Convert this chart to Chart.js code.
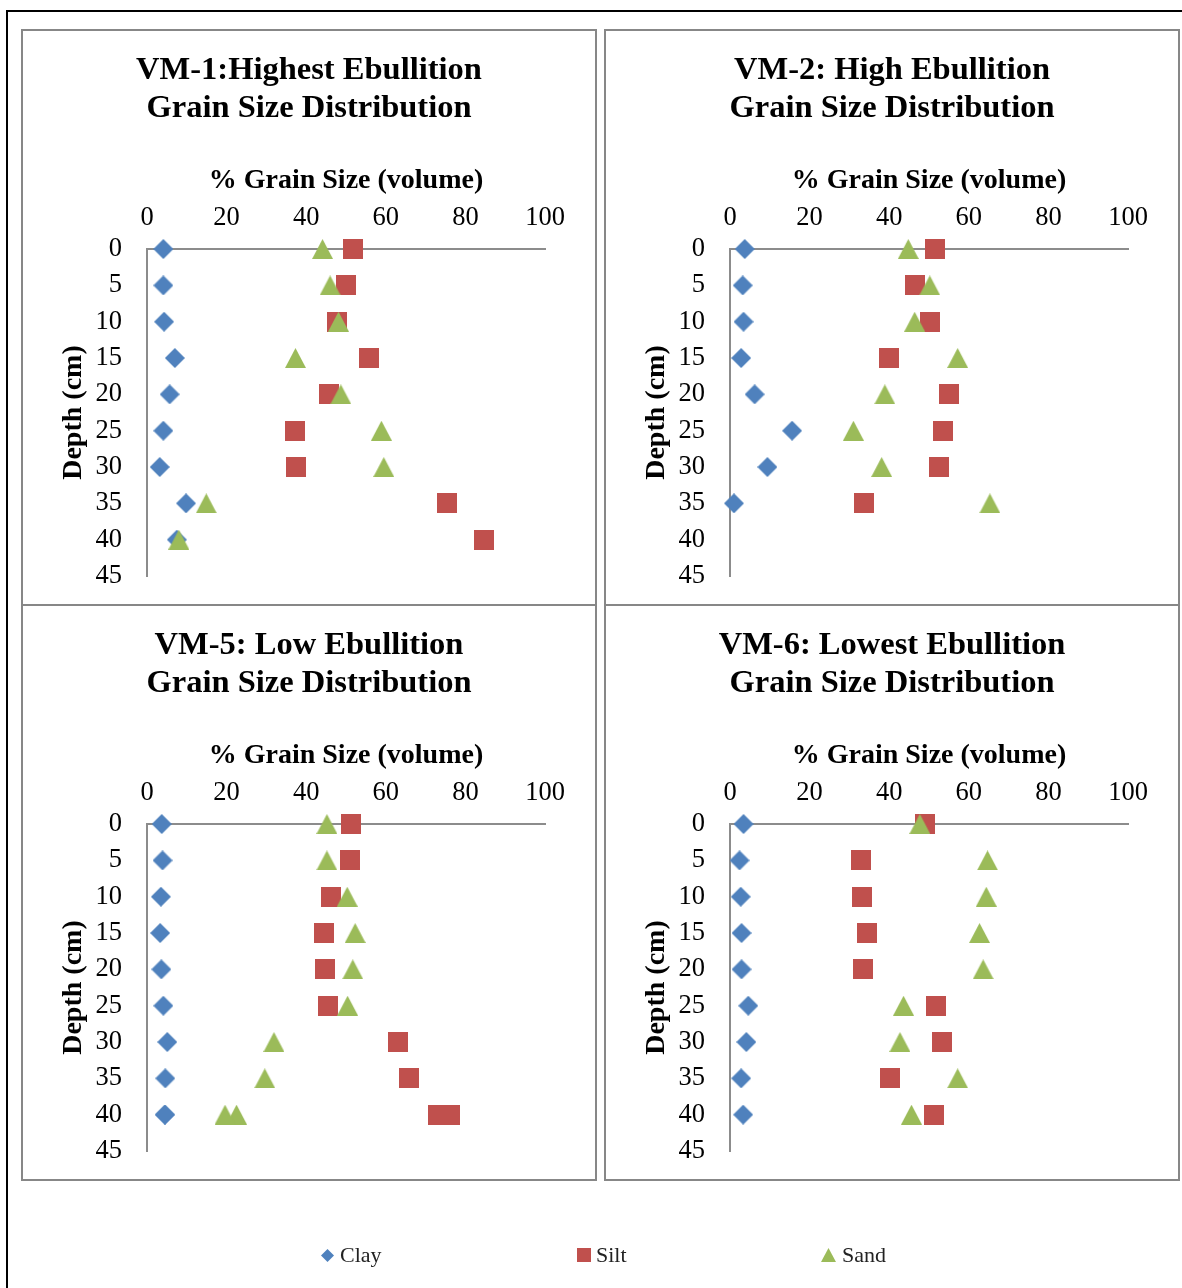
<!DOCTYPE html>
<html>
<head>
<meta charset="utf-8">
<title>Grain Size Distribution</title>
<script src="https://cdn.jsdelivr.net/npm/chart.js@4.4.1/dist/chart.umd.min.js"></script>
<style>
  html, body { margin: 0; padding: 0; background: #fff; }
  body { position: relative; width: 1182px; height: 1288px; overflow: hidden; font-family: 'Liberation Serif', serif; }
  #frame { position: absolute; left: 6px; top: 10px; right: 0; bottom: 0; border-top: 2px solid #000; border-left: 2px solid #000; }
  .panel { position: absolute; width: 572px; height: 573px; border: 2px solid #878787; background: #fff; }
  .panel canvas { position: absolute; left: 0; top: 0; }
  #p1 { left: 21px; top: 29px; }
  #p2 { left: 604px; top: 29px; }
  #p3 { left: 21px; top: 604px; }
  #p4 { left: 604px; top: 604px; }
  .legend-item { position: absolute; top: 1242px; height: 26px; line-height: 26px; font-size: 22px; color: #222; filter: blur(0.45px); white-space: nowrap; }
</style>
</head>
<body>
<div id="frame"></div>
<div class="panel" id="p1"><canvas id="c1" width="572" height="573"></canvas></div>
<div class="panel" id="p2"><canvas id="c2" width="572" height="573"></canvas></div>
<div class="panel" id="p3"><canvas id="c3" width="572" height="573"></canvas></div>
<div class="panel" id="p4"><canvas id="c4" width="572" height="573"></canvas></div>
<div id="legend"></div>

<script>
// ---- data: depth (cm) and % grain size by volume ----
const depthsVM1 = [0, 5, 10, 15, 20, 25, 30, 35, 40];
const clayVM1 = [4.1, 4.1, 4.3, 7.0, 5.7, 4.1, 3.2, 9.8, 7.5];
const siltVM1 = [51.7, 50.0, 47.7, 55.8, 45.7, 37.1, 37.5, 75.3, 84.6];
const sandVM1 = [44.1, 46.0, 48.1, 37.3, 48.7, 58.9, 59.5, 14.9, 8.0];

const depthsVM2 = [0, 5, 10, 15, 20, 25, 30, 35];
const clayVM2 = [3.7, 3.2, 3.4, 2.8, 6.2, 15.6, 9.4, 1.0];
const siltVM2 = [51.5, 46.6, 50.2, 40.0, 54.9, 53.5, 52.6, 33.7];
const sandVM2 = [44.8, 50.2, 46.4, 57.2, 38.9, 31.0, 38.1, 65.3];

const depthsVM5 = [0, 5, 10, 15, 20, 25, 30, 35, 40, 40];
const clayVM5 = [3.7, 3.9, 3.5, 3.3, 3.6, 4.1, 5.1, 4.6, 4.5, 4.5];
const siltVM5 = [51.3, 51.0, 46.3, 44.5, 44.8, 45.6, 63.1, 65.8, 73.0, 76.1];
const sandVM5 = [45.2, 45.2, 50.3, 52.3, 51.7, 50.4, 31.9, 29.6, 22.5, 19.6];

const depthsVM6 = [0, 5, 10, 15, 20, 25, 30, 35, 40];
const clayVM6 = [3.4, 2.4, 2.7, 2.9, 2.9, 4.6, 4.1, 2.8, 3.3];
const siltVM6 = [48.9, 33.0, 33.1, 34.5, 33.5, 51.8, 53.3, 40.1, 51.2];
const sandVM6 = [47.7, 64.7, 64.4, 62.7, 63.6, 43.6, 42.7, 57.2, 45.6];

const seriesNames = ['Clay', 'Silt', 'Sand'];
const seriesColors = ['#4F81BD', '#C0504D', '#9BBB59'];
const percentTicks = [0, 20, 40, 60, 80, 100];
const depthTicks = [0, 5, 10, 15, 20, 25, 30, 35, 40, 45];
const xAxisTitle = '% Grain Size (volume)';
const yAxisTitle = 'Depth (cm)';

const panelTitles = [
  ['VM-1:Highest Ebullition', 'Grain Size Distribution'],
  ['VM-2: High Ebullition', 'Grain Size Distribution'],
  ['VM-5: Low Ebullition', 'Grain Size Distribution'],
  ['VM-6: Lowest Ebullition', 'Grain Size Distribution']
];

// ---- look ----
const FONT = "'Liberation Serif', 'DejaVu Serif', serif";
const AXIS_COLOR = '#8c8c8c';

// marker sprites: diamond, square, triangle
function makeMarker(shape, color, w, h) {
  const c = document.createElement('canvas');
  c.width = w; c.height = h;
  const g = c.getContext('2d');
  g.fillStyle = color;
  g.beginPath();
  if (shape === 'diamond') {
    g.moveTo(w / 2, 0); g.lineTo(w, h / 2); g.lineTo(w / 2, h); g.lineTo(0, h / 2);
  } else if (shape === 'square') {
    g.rect(0, 0, w, h);
  } else {
    g.moveTo(w / 2, 0); g.lineTo(w, h); g.lineTo(0, h);
  }
  g.closePath();
  g.fill();
  return c;
}
const markerShapes = ['diamond', 'square', 'triangle'];
const markerImages = [
  makeMarker('diamond', seriesColors[0], 20, 20),
  makeMarker('square', seriesColors[1], 20, 20),
  makeMarker('triangle', seriesColors[2], 21, 20)
];

function noEdgePadding(s) {
  s.paddingTop = 0; s.paddingBottom = 0; s.paddingLeft = 0; s.paddingRight = 0;
}

function buildPanel(canvasId, title, depths, clay, silt, sand) {
  const values = [clay, silt, sand];
  const datasets = seriesNames.map((name, s) => ({
    label: name,
    data: depths.map((d, i) => ({ x: values[s][i], y: d })),
    pointStyle: markerImages[s],
    pointRadius: 10,
    pointHoverRadius: 10,
    showLine: false,
    clip: false,
    order: 3 - s
  }));

  return new Chart(document.getElementById(canvasId), {
    type: 'scatter',
    data: { datasets },
    options: {
      responsive: false,
      animation: false,
      events: [],
      layout: { padding: { left: 0, top: 0, right: 0, bottom: 28 } },
      plugins: {
        legend: { display: false },
        tooltip: { enabled: false },
        title: {
          display: true,
          text: title,
          color: '#000',
          font: { family: FONT, size: 32.5, weight: 'bold', lineHeight: 1.17 },
          padding: { top: 21, bottom: 0 }
        }
      },
      scales: {
        x: {
          type: 'linear',
          position: 'top',
          min: 0, max: 100,
          afterBuildTicks: s => { s.ticks = percentTicks.map(v => ({ value: v })); },
          afterFit: s => { s.height = 121; noEdgePadding(s); },
          grid: { display: false, drawTicks: false },
          border: { display: true, color: AXIS_COLOR, width: 2 },
          ticks: { color: '#000', font: { family: FONT, size: 26.5 }, padding: 15, maxRotation: 0, autoSkip: false },
          title: {
            display: true, text: xAxisTitle, color: '#000',
            font: { family: FONT, size: 28, weight: 'bold' },
            padding: { top: 36, bottom: 0 }
          }
        },
        y: {
          type: 'linear',
          position: 'left',
          reverse: true,
          min: 0, max: 45,
          afterBuildTicks: s => { s.ticks = depthTicks.map(v => ({ value: v })); },
          afterFit: s => { s.width = 124; noEdgePadding(s); },
          grid: { display: false, drawTicks: false },
          border: { display: true, color: AXIS_COLOR, width: 2 },
          ticks: { color: '#000', font: { family: FONT, size: 26.5 }, padding: 25, autoSkip: false },
          title: {
            display: true, text: yAxisTitle, color: '#000',
            font: { family: FONT, size: 28, weight: 'bold' },
            padding: { top: 34, bottom: 0 }
          }
        },
        // empty right-hand gutter so the plot stops short of the panel edge
        gutter: {
          type: 'linear',
          position: 'right',
          display: true,
          grid: { display: false, drawTicks: false },
          border: { display: false },
          ticks: { display: false },
          afterFit: s => { s.width = 50; noEdgePadding(s); }
        }
      }
    }
  });
}

buildPanel('c1', panelTitles[0], depthsVM1, clayVM1, siltVM1, sandVM1);
buildPanel('c2', panelTitles[1], depthsVM2, clayVM2, siltVM2, sandVM2);
buildPanel('c3', panelTitles[2], depthsVM5, clayVM5, siltVM5, sandVM5);
buildPanel('c4', panelTitles[3], depthsVM6, clayVM6, siltVM6, sandVM6);

// shared legend under the four panels
const legendMarkerLeft = [321, 577, 821];
const legendTextLeft = [340, 596, 842];
const legendEl = document.getElementById('legend');
seriesNames.forEach((name, s) => {
  const mk = makeMarker(markerShapes[s], seriesColors[s], s === 0 ? 13 : (s === 1 ? 14 : 15), s === 0 ? 13 : 14);
  mk.className = 'legend-item';
  mk.style.left = legendMarkerLeft[s] + 'px';
  mk.style.top = (1255 - mk.height / 2) + 'px';
  mk.style.height = mk.height + 'px';
  legendEl.appendChild(mk);
  const t = document.createElement('div');
  t.className = 'legend-item';
  t.style.left = legendTextLeft[s] + 'px';
  t.textContent = name;
  legendEl.appendChild(t);
});
</script>
</body>
</html>
